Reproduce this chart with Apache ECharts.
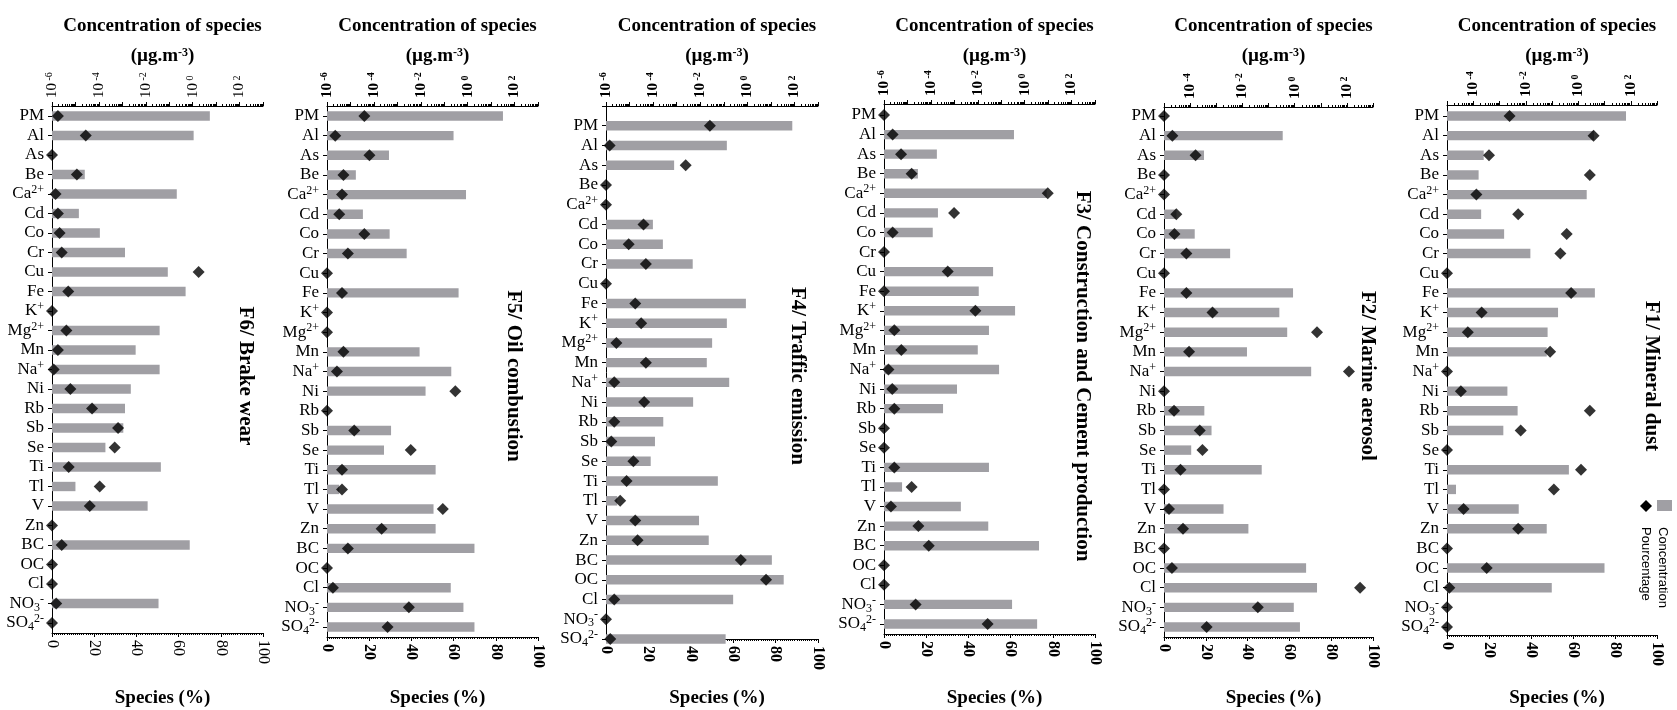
<!DOCTYPE html>
<html>
<head>
<meta charset="utf-8">
<script src="https://cdn.jsdelivr.net/npm/echarts@6/dist/echarts.min.js"></script>
<style>
html, body { margin: 0; padding: 0; background: #fff; }
#main { width: 1677px; height: 710px; }
</style>
</head>
<body>
<div id="main"></div>
<script>
// species, top to bottom
const species = ['PM', 'Al', 'As', 'Be', 'Ca2+', 'Cd', 'Co', 'Cr', 'Cu', 'Fe', 'K+', 'Mg2+', 'Mn', 'Na+', 'Ni',
    'Rb', 'Sb', 'Se', 'Ti', 'Tl', 'V', 'Zn', 'BC', 'OC', 'Cl', 'NO3-', 'SO42-'];
const speciesLabels = ['PM', 'Al', 'As', 'Be', 'Ca{sup|2+}', 'Cd', 'Co', 'Cr', 'Cu', 'Fe', 'K{sup|+}', 'Mg{sup|2+}', 'Mn',
    'Na{sup|+}', 'Ni', 'Rb', 'Sb', 'Se', 'Ti', 'Tl', 'V', 'Zn', 'BC', 'OC', 'Cl', 'NO{sub|3}{sup|-}', 'SO{sub|4}{sup|2-}'];

const panelNames = ['F6/ Brake wear', 'F5/ Oil combustion', 'F4/ Traffic emission',
    'F3/ Construction and Cement production', 'F2/ Marine aerosol', 'F1/ Mineral dust'];
const logMin = [1e-6, 1e-6, 1e-6, 1e-6, 1e-5, 1e-5];
const logMax = 1e3;
const pctTicks = [0, 20, 40, 60, 80, 100];

// concentration (µg.m-3), grey bars, null = no bar
const concF6 = [5.4, 1.1, null, 2.5e-5, 0.21, 1.4e-5, 1.1e-4, 1.3e-3, 0.087, 0.5, null, 0.039, 0.0037, 0.039, 0.0023,
    0.0013, 0.0011, 1.9e-4, 0.044, 1.0e-5, 0.012, null, 0.75, null, null, 0.035, null];
const concF5 = [32, 0.25, 4.4e-4, 1.7e-5, 0.85, 3.4e-5, 4.7e-4, 2.5e-3, null, 0.41, null, null, 8.9e-3, 0.2, 0.016,
    null, 5.4e-4, 2.7e-4, 0.043, 3.3e-6, 0.035, 0.043, 1.95, null, 0.19, 0.66, 1.95];
const concF4 = [81, 0.135, 7.8e-4, null, null, 9.8e-5, 2.6e-4, 4.8e-3, null, 0.87, 0.135, 0.032, 0.019, 0.17, 5e-3,
    2.7e-4, 1.2e-4, 7.9e-5, 0.056, 3e-6, 8.9e-3, 0.023, 11, 35, 0.25, null, 0.12];
const concF3 = [null, 0.35, 1.8e-4, 2.8e-5, 8.7, 2e-4, 1.2e-4, null, 0.045, 0.011, 0.39, 0.03, 0.01, 0.081, 1.3e-3,
    3.3e-4, null, null, 0.03, 5.9e-6, 1.9e-3, 0.028, 4.1, null, null, 0.29, 3.4];
const concF2 = [null, 0.35, 3.4e-4, null, null, 3e-5, 1.5e-4, 3.4e-3, null, 0.87, 0.26, 0.52, 0.015, 4.3, null,
    3.5e-4, 6.6e-4, 1.1e-4, 0.055, null, 1.9e-3, 0.017, null, 2.75, 7.2, 0.93, 1.6];
const concF1 = [66, 4, 2.5e-4, 1.6e-4, 2.1, 2e-4, 1.5e-3, 0.015, null, 4.3, 0.17, 0.068, 0.063, null, 2e-3,
    4.9e-3, 1.4e-3, null, 0.44, 2.2e-5, 5.4e-3, 0.063, null, 10, 0.098, null, null];

// percentage of species (%), black diamonds
const pctF6 = [2.8, 16, 0, 11.8, 1.7, 2.8, 3.6, 4.6, 69.5, 7.7, 0, 6.8, 2.8, 0.8, 8.7,
    19, 31.3, 29.7, 7.9, 22.6, 17.9, 0, 4.6, 0, 0, 2, 0];
const pctF5 = [17.7, 3.9, 20.1, 7.8, 7.1, 5.8, 17.7, 9.9, 0, 7.1, 0, 0, 7.8, 4.7, 60.8,
    0, 12.9, 39.7, 7.1, 7.1, 54.9, 25.9, 9.9, 0, 2.8, 38.8, 28.7];
const pctF4 = [49, 1.7, 37.6, 0, 0, 17.7, 10.7, 18.8, 0, 13.8, 16.6, 4.9, 18.8, 3.9, 18,
    3.9, 2.5, 12.9, 9.7, 6.7, 13.8, 14.9, 63.6, 75.5, 3.9, 0, 2];
const pctF3 = [0, 4.1, 8.1, 13.1, 77.6, 33.2, 4.1, 0, 30.2, 0, 43.3, 4.9, 8.2, 2.1, 3.9,
    4.9, 0, 0, 4.9, 13.1, 3.3, 16.3, 21.2, 0, 0, 15, 49.1];
const pctF2 = [0, 4, 15.1, 0, 0, 5.9, 5, 10.7, 0, 10.7, 23.2, 73.2, 12, 88.5, 0,
    4.8, 17.1, 18.4, 7.9, 0, 2.4, 9.1, 0, 3.8, 93.8, 44.9, 20.4];
const pctF1 = [29.8, 69.8, 20, 68, 14, 33.9, 57, 54, 0, 59.1, 16.5, 9.9, 49.1, 0, 6.6,
    68, 35.1, 0, 63.8, 50.9, 7.9, 33.9, 0, 18.9, 1.1, 0, 0];

const concs = [concF6, concF5, concF4, concF3, concF2, concF1];
const pcts = [pctF6, pctF5, pctF4, pctF3, pctF2, pctF1];

// where each panel sits on the page (pixels); shifted: rows pushed down by one slot, last row on the axis
const layout = [
    {left: 52, right: 263, first: 116, last: 623, axisTop: 106, axisBottom: 633, titleX: 245},
    {left: 327, right: 538, first: 116, last: 627, axisTop: 106, axisBottom: 637, titleX: 513},
    {left: 606, right: 818, axisTop: 106, axisBottom: 639, titleX: 797, shifted: true},
    {left: 884, right: 1095, first: 115, last: 624, axisTop: 104, axisBottom: 634, titleX: 1082},
    {left: 1164, right: 1373, first: 116, last: 627, axisTop: 107, axisBottom: 637, titleX: 1367},
    {left: 1447, right: 1657, first: 116, last: 627, axisTop: 105, axisBottom: 635, titleX: 1651}
];

const serif = '"Liberation Serif", "Times New Roman", serif';
const barColor = '#a09fa4';

window.addEventListener('load', function () {
    const chart = echarts.init(document.getElementById('main'));
    let grid = [], xAxis = [], yAxis = [], series = [], title = [], graphic = [];

    for (let i = 0; i < 6; i++) {
        const L = layout[i];
        let gTop, gBot;
        if (L.shifted) {
            gTop = L.axisTop;
            gBot = L.axisBottom;
        } else {
            const band = (L.last - L.first) / (species.length - 1);
            gTop = L.first - band / 2;
            gBot = L.last + band / 2;
        }
        const cx = (L.left + L.right) / 2;
        const weight = i === 0 ? 'normal' : 'bold';
        const minV = logMin[i];

        grid.push({
            left: L.left, width: L.right - L.left, top: gTop, height: gBot - gTop,
            containLabel: false, outerBoundsMode: 'none'
        });

        // top: concentration, log scale
        xAxis.push({
            type: 'log', gridIndex: i, position: 'top', logBase: 10,
            min: minV, max: logMax, interval: 1,
            offset: gTop - L.axisTop,
            axisLine: {show: true, onZero: false, lineStyle: {color: '#000', width: 1}},
            axisTick: {show: true, length: 4, lineStyle: {color: '#000'}},
            minorTick: {show: true, splitNumber: 10, length: 2, lineStyle: {color: '#000'}},
            splitLine: {show: false},
            axisLabel: {
                rotate: -90, margin: 8, color: '#000', fontFamily: serif, fontSize: 15, fontWeight: weight,
                formatter: function (v) {
                    const e = Math.round(Math.log10(v));
                    return e % 2 === 0 ? '{b|10}{s| ' + e + '}' : '';
                },
                rich: {
                    b: {fontFamily: serif, fontSize: 15, fontWeight: weight, color: '#000'},
                    s: {fontFamily: serif, fontSize: 10, fontWeight: weight, color: '#000', verticalAlign: 'top', lineHeight: 10}
                }
            }
        });
        // bottom: percentage
        xAxis.push({
            type: 'value', gridIndex: i, position: 'bottom',
            min: pctTicks[0], max: pctTicks[pctTicks.length - 1], interval: 20,
            offset: L.axisBottom - gBot,
            axisLine: {show: true, onZero: false, lineStyle: {color: '#000', width: 1}},
            axisTick: {show: true, length: 4, lineStyle: {color: '#000'}},
            minorTick: {show: true, splitNumber: 20, length: 2, lineStyle: {color: '#000'}},
            splitLine: {show: false},
            axisLabel: {rotate: -90, margin: 7, color: '#000', fontFamily: serif, fontSize: 16, fontWeight: weight}
        });

        yAxis.push({
            type: 'category', gridIndex: i, inverse: true,
            data: L.shifted ? [''].concat(species) : species,
            boundaryGap: !L.shifted,
            axisLine: {show: true, onZero: false, lineStyle: {color: '#000', width: 1}},
            axisTick: {show: true, alignWithLabel: true, length: 4, lineStyle: {color: '#000'}},
            splitLine: {show: false},
            axisLabel: {
                interval: 0, margin: 8, color: '#000', fontFamily: serif, fontSize: 17, lineHeight: 20,
                formatter: function (v) {
                    const k = species.indexOf(v);
                    return k < 0 ? '' : speciesLabels[k];
                },
                rich: {
                    sup: {fontFamily: serif, fontSize: 12, color: '#000', verticalAlign: 'top', lineHeight: 12},
                    sub: {fontFamily: serif, fontSize: 12, color: '#000', verticalAlign: 'bottom', lineHeight: 12}
                }
            }
        });

        const barData = [];
        concs[i].forEach(function (v, k) {
            if (v != null) barData.push([v, species[k]]);
        });
        series.push({
            type: 'custom', name: 'Concentration', xAxisIndex: 2 * i, yAxisIndex: i,
            data: barData, encode: {x: 0, y: 1}, clip: false,
            renderItem: function (params, api) {
                const k = api.value(1);
                const start = api.coord([minV, k]);
                const end = api.coord([api.value(0), k]);
                const h = api.size([0, 1])[1] * 0.48;
                return {
                    type: 'rect',
                    shape: {x: start[0], y: start[1] - h / 2, width: end[0] - start[0], height: h},
                    style: {fill: barColor}
                };
            }
        });
        series.push({
            type: 'scatter', name: 'Pourcentage', xAxisIndex: 2 * i + 1, yAxisIndex: i,
            symbol: 'diamond', symbolSize: 12, clip: false, z: 3,
            itemStyle: {color: '#000'},
            data: pcts[i].map((v, k) => [v, species[k]])
        });

        title.push({
            text: 'Concentration of species', left: cx, top: 12, textAlign: 'center',
            textStyle: {fontFamily: serif, fontWeight: 'bold', fontSize: 19, color: '#000'}
        });
        title.push({
            text: '(µg.m{sup|-3})', left: cx, top: 42, textAlign: 'center',
            textStyle: {
                fontFamily: serif, fontWeight: 'bold', fontSize: 19, color: '#000',
                rich: {sup: {fontFamily: serif, fontWeight: 'bold', fontSize: 12, color: '#000', verticalAlign: 'top', lineHeight: 12}}
            }
        });
        title.push({
            text: 'Species (%)', left: cx, top: 684, textAlign: 'center',
            textStyle: {fontFamily: serif, fontWeight: 'bold', fontSize: 19, color: '#000'}
        });

        graphic.push({
            type: 'text', x: L.titleX, y: 376, rotation: -Math.PI / 2, silent: true,
            style: {text: panelNames[i], font: 'bold 21px ' + serif, fill: '#000', align: 'center', verticalAlign: 'middle'}
        });
    }

    // legend (rotated, bottom right)
    graphic.push({
        type: 'polygon', silent: true,
        shape: {points: [[1646, 500], [1652, 506], [1646, 512], [1640, 506]]},
        style: {fill: '#000'}
    });
    graphic.push({type: 'rect', silent: true, shape: {x: 1657, y: 500, width: 15, height: 11}, style: {fill: barColor}});
    graphic.push({
        type: 'text', x: 1646, y: 527, rotation: -Math.PI / 2, silent: true,
        style: {text: 'Pourcentage', font: '13px "Liberation Sans", Arial, sans-serif', fill: '#000', align: 'left', verticalAlign: 'middle'}
    });
    graphic.push({
        type: 'text', x: 1663, y: 527, rotation: -Math.PI / 2, silent: true,
        style: {text: 'Concentration', font: '13px "Liberation Sans", Arial, sans-serif', fill: '#000', align: 'left', verticalAlign: 'middle'}
    });

    const option = {
        backgroundColor: '#fff',
        animation: false,
        title: title,
        grid: grid,
        xAxis: xAxis,
        yAxis: yAxis,
        series: series,
        graphic: graphic
    };
    chart.setOption(option);
});
</script>
</body>
</html>
